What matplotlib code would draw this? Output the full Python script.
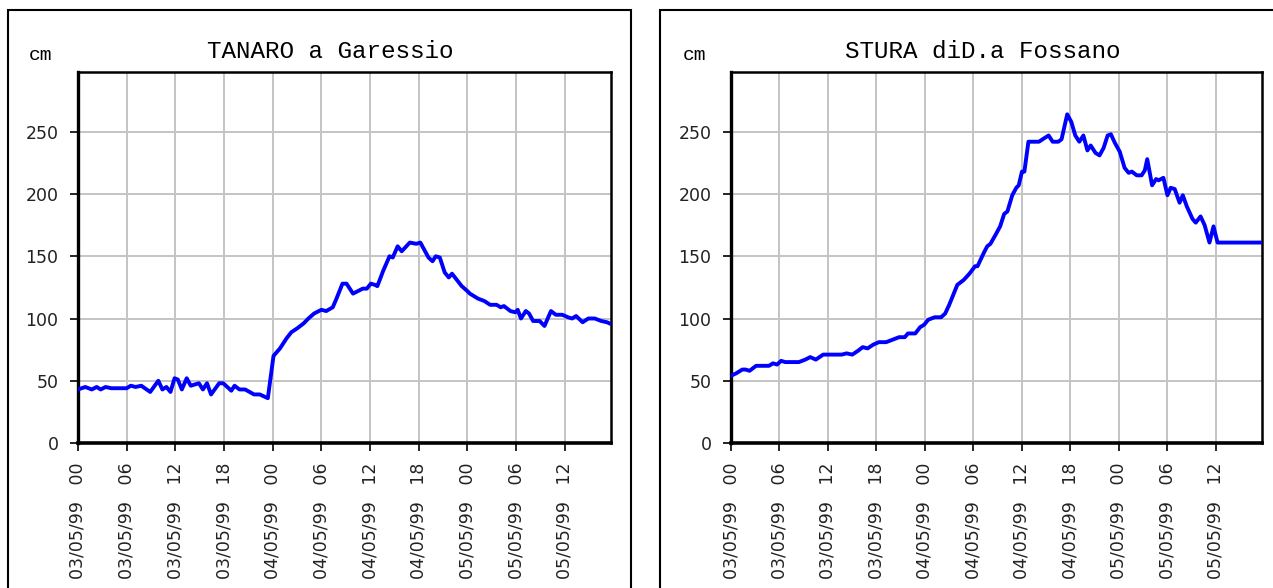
import matplotlib
matplotlib.use("Agg")
import matplotlib.pyplot as plt
from matplotlib.patches import Rectangle

# hours since 03/05/99 00:00 and water level (cm)
tanaro_h = [0, 0.9, 1.7, 2.3, 2.8, 3.4, 4.1, 6.0, 6.5, 7.1, 7.8, 8.9, 9.9, 10.4, 10.9,
            11.4, 11.9, 12.3, 12.8, 13.4, 13.9, 14.9, 15.4, 15.9, 16.4, 17.4, 17.9,
            18.9, 19.3, 19.9, 20.6, 21.7, 22.4, 23.4, 24.1, 24.9, 25.7, 26.3, 27.0,
            27.8, 28.4, 29.1, 30.0, 30.6, 31.4, 31.8, 32.6, 33.1, 33.9, 35.1, 35.6,
            36.1, 36.6, 36.9, 37.6, 38.4, 38.8, 39.4, 39.9, 40.9, 41.7, 42.2, 43.2,
            43.7, 44.1, 44.6, 45.2, 45.7, 46.1, 47.3, 48.0, 48.3, 49.3, 50.1, 50.8,
            51.6, 52.1, 52.5, 53.3, 53.9, 54.2, 54.6, 55.2, 55.6, 56.1, 56.9, 57.5,
            58.3, 58.9, 59.7, 60.4, 60.9, 61.4, 62.2, 62.9, 63.7, 64.5, 65.2, 65.9]
tanaro_v = [43, 45, 43, 45, 43, 45, 44, 44, 46, 45, 46, 41, 50, 43, 45,
            41, 52, 51, 43, 52, 46, 48, 43, 48, 39, 48, 48,
            42, 46, 43, 43, 39, 39, 36, 70, 76, 84, 89, 92,
            96, 100, 104, 107, 106, 109, 115, 128, 128, 120, 124, 124,
            128, 127, 126, 138, 150, 149, 158, 154, 161, 160, 161, 149,
            146, 150, 149, 137, 133, 136, 126, 122, 120, 116, 114, 111,
            111, 109, 110, 106, 105, 107, 100, 106, 104, 98, 98, 94,
            106, 103, 103, 101, 100, 102, 97, 100, 100, 98, 97, 95]

stura_h = [0, 0.65, 1.4, 1.8, 2.3, 3.1, 3.9, 4.7, 5.2, 5.7, 6.2, 6.7, 8.4, 9.2, 9.8,
           10.5, 11.4, 13.7, 14.3, 15.0, 15.7, 16.3, 16.9, 17.6, 18.3, 19.2, 20.0,
           20.8, 21.5, 21.9, 22.8, 23.4, 23.9, 24.4, 25.2, 26.0, 26.5, 27.0, 27.5,
           28.0, 28.8, 29.5, 30.2, 30.5, 31.3, 31.7, 32.1, 32.8, 33.3, 33.8, 34.2,
           34.8, 35.3, 35.6, 36.0, 36.3, 36.8, 38.1, 38.8, 39.3, 39.8, 40.5, 40.9,
           41.6, 42.1, 42.6, 43.1, 43.6, 44.1, 44.5, 45.1, 45.6, 46.1, 46.6, 47.0,
           47.5, 48.1, 48.7, 49.2, 49.6, 50.2, 50.8, 51.2, 51.5, 52.1, 52.6, 52.9,
           53.5, 54.0, 54.4, 54.9, 55.5, 55.9, 56.4, 57.1, 57.5, 58.1, 58.6, 59.2,
           59.7, 60.2, 65.7]
stura_v = [54, 56, 59, 59, 58, 62, 62, 62, 64, 63, 66, 65, 65, 67, 69,
           67, 71, 71, 72, 71, 74, 77, 76, 79, 81, 81, 83,
           85, 85, 88, 88, 93, 95, 99, 101, 101, 104, 111, 119,
           127, 131, 136, 142, 142, 153, 158, 160, 168, 174, 184, 186,
           199, 205, 207, 218, 218, 242, 242, 245, 247, 242, 242, 244,
           264, 258, 247, 242, 247, 235, 239, 233, 231, 237, 247, 248,
           241, 234, 221, 217, 218, 215, 215, 219, 228, 207, 212, 211,
           213, 199, 205, 204, 193, 199, 190, 180, 177, 182, 175, 161,
           174, 161, 161]

tick_hours = [0, 6, 12, 18, 24, 30, 36, 42, 48, 54, 60]
tick_labels = ["03/05/99   00", "03/05/99   06", "03/05/99   12", "03/05/99   18",
               "04/05/99   00", "04/05/99   06", "04/05/99   12", "04/05/99   18",
               "05/05/99   00", "05/05/99   06", "05/05/99   12"]
y_ticks = [0, 50, 100, 150, 200, 250]

W, H = 1273, 588
fig = plt.figure(figsize=(W / 100, H / 100), dpi=100)

panels = [
    ("TANARO a Garessio", tanaro_h, tanaro_v, 78, 611, 8, 631, 330, 41),
    ("STURA diD.a Fossano", stura_h, stura_v, 731, 1262, 660, 1400, 983, 695),
]

for title, hx, vals, x0, x1, f0, f1, tx, cmx in panels:
    # outer frame of each panel (runs off the bottom of the picture)
    fig.add_artist(Rectangle((f0 / W, -0.2), (f1 - f0) / W, 1.2 - 10 / H,
                             transform=fig.transFigure, fill=False,
                             edgecolor="black", linewidth=1.5, clip_on=False))
    ax = fig.add_axes([x0 / W, (H - 443) / H, (x1 - x0) / W, 371 / H])
    ax.plot(hx, vals, color="#0000ff", lw=2.8, zorder=3)
    ax.set_xlim(0, 65.7)
    ax.set_ylim(0, 298)
    ax.set_xticks(tick_hours)
    ax.set_xticklabels(tick_labels, rotation=90, va="top", ha="center",
                       fontsize=12.5, color="#222222")
    ax.set_yticks(y_ticks)
    ax.set_yticklabels([str(t) for t in y_ticks], fontsize=12.5, color="#222222")
    ax.tick_params(axis="both", direction="out", length=6, width=1.2, pad=8)
    ax.grid(True, color="#c4c4c4", lw=1.4)
    ax.set_axisbelow(True)
    for s in ax.spines.values():
        s.set_linewidth(1.8)
    ax.spines["bottom"].set_linewidth(2.6)
    ax.spines["left"].set_linewidth(2.4)
    fig.text(tx / W, 1 - 52 / H, title, family="Liberation Mono", fontsize=17.5,
             ha="center", va="center")
    fig.text(cmx / W, 1 - 56 / H, "cm", family="Liberation Mono", fontsize=14,
             ha="center", va="center")

fig.savefig("out.png", dpi=100)
